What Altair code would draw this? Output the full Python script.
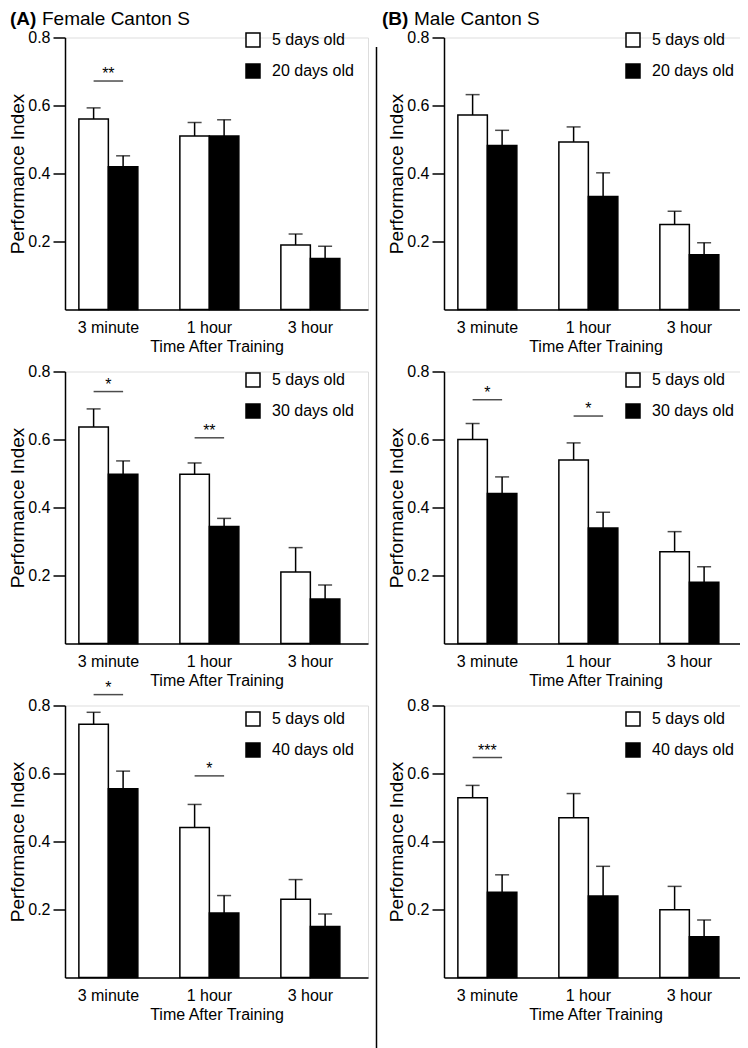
import altair as alt
import pandas as pd

FONT = "Liberation Sans"

times = ["3 minute", "1 hour", "3 hour"]
young_label = "5 days old"
old_labels = ["20 days old", "30 days old", "40 days old"]

# Female Canton S (rows: 20, 30, 40 days)
female_young_mean = [[0.560, 0.510, 0.190], [0.637, 0.498, 0.210], [0.745, 0.441, 0.230]]
female_young_sem = [[0.033, 0.040, 0.032], [0.053, 0.033, 0.072], [0.035, 0.068, 0.058]]
female_old_mean = [[0.420, 0.510, 0.150], [0.498, 0.344, 0.131], [0.555, 0.190, 0.150]]
female_old_sem = [[0.032, 0.048, 0.036], [0.039, 0.024, 0.041], [0.052, 0.051, 0.037]]

# Male Canton S
male_young_mean = [[0.572, 0.493, 0.250], [0.600, 0.540, 0.270], [0.529, 0.470, 0.199]]
male_young_sem = [[0.060, 0.044, 0.039], [0.047, 0.050, 0.059], [0.036, 0.071, 0.069]]
male_old_mean = [[0.482, 0.332, 0.161], [0.441, 0.340, 0.180], [0.251, 0.240, 0.120]]
male_old_sem = [[0.045, 0.070, 0.035], [0.049, 0.046, 0.046], [0.051, 0.087, 0.049]]

# significance markers: time, stars, bracket height
female_sig_time = [["3 minute"], ["3 minute", "1 hour"], ["3 minute", "1 hour"]]
female_sig_text = [["**"], ["*", "**"], ["*", "*"]]
female_sig_y = [[0.672], [0.741, 0.605], [0.832, 0.593]]
male_sig_time = [[], ["3 minute", "1 hour"], ["3 minute"]]
male_sig_text = [[], ["*", "*"], ["***"]]
male_sig_y = [[], [0.717, 0.669], [0.647]]

W, H = 303, 272
legend_y_rows = [-5.5, 0.5, 5.5]


def panel(ym, ys, om, osem, old_label, sig_t, sig_s, sig_y, legend_x, legend_y, extra=None):
    rows = []
    for i, t in enumerate(times):
        rows.append(dict(time=t, group=young_label, mean=ym[i], top=ym[i] + ys[i]))
        rows.append(dict(time=t, group=old_label, mean=om[i], top=om[i] + osem[i]))
    df = pd.DataFrame(rows)
    xscale = alt.Scale(domain=times, paddingInner=0.416, paddingOuter=0.208, align=0.33)
    xaxis = alt.Axis(title="Time After Training", labelAngle=0, ticks=False, labelPadding=10,
                     labelFontSize=16, titleFontSize=16, titleFontWeight="normal", titlePadding=3,
                     domainWidth=1.5, domainColor="black", labelColor="black", titleColor="black",
                     labelFont=FONT, titleFont=FONT, grid=False)
    yscale = alt.Scale(domain=[0, 0.8], nice=False, zero=True)
    yaxis = alt.Axis(values=[0.2, 0.4, 0.6, 0.8], format=".1f", title="Performance Index",
                     titleFontSize=19, titleFontWeight="normal", labelFontSize=16, tickSize=12,
                     tickWidth=1.5, tickColor="black", domainWidth=1.5, domainColor="black",
                     labelPadding=3, titlePadding=0, grid=False, labelColor="black",
                     titleColor="black", labelFont=FONT, titleFont=FONT)
    xo_scale = alt.Scale(domain=[young_label, old_label], paddingInner=0, paddingOuter=0)
    x = alt.X("time:N", sort=times, scale=xscale, axis=xaxis)
    xo = alt.XOffset("group:N", scale=xo_scale)
    base = alt.Chart(df)
    err = base.mark_rule(color="black", strokeWidth=1.5).encode(
        x=x, xOffset=xo, y=alt.Y("mean:Q", scale=yscale, axis=yaxis), y2="top:Q")
    cap = base.mark_tick(color="black", size=14, thickness=1.5).encode(
        x=x, xOffset=xo, y=alt.Y("top:Q", scale=yscale, axis=yaxis))
    bars = base.mark_bar(stroke="black", strokeWidth=1.5).encode(
        x=x, xOffset=xo,
        y=alt.Y("mean:Q", scale=yscale, axis=yaxis),
        color=alt.Color("group:N", scale=alt.Scale(domain=[young_label, old_label], range=["white", "black"]),
                        legend=alt.Legend(orient="none", legendX=legend_x, legendY=legend_y, title=None,
                                          symbolType="square", symbolSize=196, symbolStrokeColor="black",
                                          symbolStrokeWidth=1.5, labelFontSize=16, labelFont=FONT,
                                          labelColor="black", labelOffset=11, rowPadding=11, padding=0)))
    layers = [err, cap, bars]
    if sig_t:
        sdf = pd.DataFrame({"time": sig_t, "stars": sig_s, "y": sig_y})
        sb = alt.Chart(sdf)
        layers.append(sb.mark_tick(color="black", size=29.5, thickness=1.5).encode(
            x=alt.X("time:N", sort=times, scale=xscale, axis=xaxis),
            y=alt.Y("y:Q", scale=yscale, axis=yaxis)))
        layers.append(sb.mark_text(fontSize=16, font=FONT, baseline="alphabetic", dy=-2, color="black").encode(
            x=alt.X("time:N", sort=times, scale=xscale, axis=xaxis),
            y=alt.Y("y:Q", scale=yscale, axis=yaxis), text="stars:N"))
    if extra:
        layers.extend(extra)
    return alt.layer(*layers).properties(width=W, height=H)


one = pd.DataFrame({"d": [0]})
panel_titles_bold = ["(A)", "(B)"]
panel_titles = ["Female Canton S", "Male Canton S"]


def title_layers(bold_x, text_x, k):
    return [
        alt.Chart(one).mark_text(text=panel_titles_bold[k], fontSize=19, fontWeight="bold", font=FONT,
                                 align="left", baseline="alphabetic", color="black").encode(
            x=alt.value(bold_x), y=alt.value(-12.5)),
        alt.Chart(one).mark_text(text=panel_titles[k], fontSize=19, font=FONT,
                                 align="left", baseline="alphabetic", color="black").encode(
            x=alt.value(text_x), y=alt.value(-12.5)),
    ]


divider = alt.Chart(one).mark_rule(color="black", strokeWidth=1.5).encode(
    x=alt.value(-67.5), y=alt.value(9.5), y2=alt.value(1010.5))

panels = []
for r in range(3):
    extraA = title_layers(-55, -23, 0) if r == 0 else None
    extraB = (title_layers(-62, -30, 1) + [divider]) if r == 0 else None
    pA = panel(female_young_mean[r], female_young_sem[r], female_old_mean[r], female_old_sem[r],
               old_labels[r], female_sig_time[r], female_sig_text[r], female_sig_y[r],
               180, legend_y_rows[r], extraA)
    pB = panel(male_young_mean[r], male_young_sem[r], male_old_mean[r], male_old_sem[r],
               old_labels[r], male_sig_time[r], male_sig_text[r], male_sig_y[r],
               181, legend_y_rows[r], extraB)
    panels.extend([pA, pB])

chart = alt.concat(*panels, columns=2, spacing={"row": 62, "column": 76}, bounds="flush").resolve_scale(
    color="independent", xOffset="independent", x="independent", y="independent"
).resolve_legend(color="independent").properties(
    autosize=alt.AutoSizeParams(type="none"),
    padding={"left": 57, "top": 29.5, "right": 675, "bottom": 1010.5},
    background="white",
).configure_view(stroke=None).configure(font=FONT)

chart.save("out.html", embed_options={"renderer": "svg", "actions": False})
